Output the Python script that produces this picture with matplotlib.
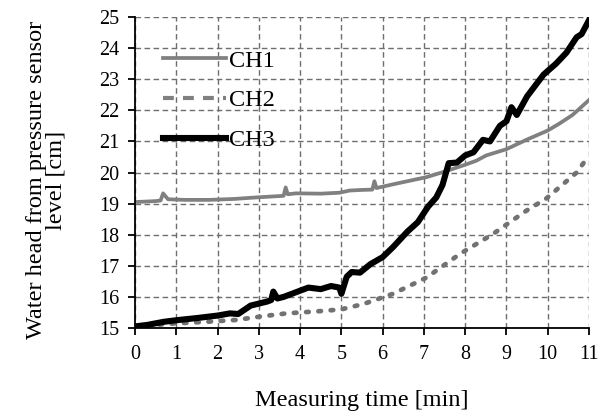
import matplotlib
matplotlib.use("Agg")
import matplotlib.pyplot as plt
from matplotlib.lines import Line2D

plt.rcParams['font.family'] = ['Liberation Serif', 'DejaVu Serif']

# ---- data ----
ch1_t = [0, 0.5, 0.62, 0.68, 0.8, 1.2, 1.8, 2.4, 2.95, 3.6, 3.65, 3.7, 3.9, 4.5, 4.95,
         5.2, 5.5, 5.75, 5.8, 5.85, 6.25, 6.6, 7.06, 7.55, 8.0, 8.27, 8.51, 9.0, 9.48,
         10.0, 10.29, 10.6, 11.0]
ch1_h = [19.05, 19.08, 19.1, 19.33, 19.14, 19.12, 19.12, 19.15, 19.2, 19.25, 19.52, 19.3,
         19.33, 19.32, 19.35, 19.42, 19.44, 19.45, 19.72, 19.5, 19.62, 19.72, 19.85, 20.05,
         20.25, 20.38, 20.55, 20.75, 21.05, 21.35, 21.58, 21.85, 22.33]

ch2_t = [0, 0.5, 1.0, 1.73, 2.46, 3.1, 3.67, 4.56, 5.0, 5.53, 6.25, 7.06, 7.87, 8.68,
         9.48, 9.97, 10.7, 11.0]
ch2_h = [15.02, 15.1, 15.15, 15.2, 15.26, 15.38, 15.47, 15.55, 15.6, 15.77, 16.1, 16.62,
         17.38, 18.03, 18.77, 19.17, 20.0, 20.55]

ch3_t = [0, 0.3, 0.7, 1.0, 1.5, 2.0, 2.3, 2.5, 2.8, 3.2, 3.3, 3.35, 3.45, 3.6, 3.9, 4.2,
         4.5, 4.75, 4.95, 5.0, 5.13, 5.25, 5.45, 5.7, 6.0, 6.25, 6.6, 6.85, 7.1, 7.3, 7.45,
         7.6, 7.8, 8.0, 8.2, 8.43, 8.6, 8.84, 9.0, 9.12, 9.25, 9.5, 9.9, 10.2, 10.45, 10.7,
         10.82, 11.0]
ch3_h = [15.05, 15.1, 15.2, 15.25, 15.32, 15.4, 15.47, 15.45, 15.72, 15.85, 15.9, 16.17,
         15.95, 16.0, 16.15, 16.3, 16.25, 16.35, 16.3, 16.1, 16.65, 16.8, 16.78, 17.05,
         17.28, 17.6, 18.1, 18.4, 18.9, 19.2, 19.6, 20.3, 20.32, 20.55, 20.65, 21.05, 21.0,
         21.5, 21.65, 22.1, 21.85, 22.45, 23.15, 23.5, 23.85, 24.35, 24.45, 24.9]

labels = ["CH1", "CH2", "CH3"]
x_ticks = list(range(0, 12))
y_ticks = list(range(15, 26))

gray = "#808080"
FS_TICK = 14.5
FS_LAB = 17.5

fig = plt.figure(figsize=(6.06, 4.18), dpi=100)
ax = fig.add_axes([0.2228, 0.2153, 0.7492, 0.744])

ax.plot(ch1_t, ch1_h, color=gray, lw=2.7, solid_joinstyle='round', zorder=3)
ax.plot(ch2_t, ch2_h, color="#727272", lw=3.4, linestyle=(0, (0.55, 2.05)),
        dash_capstyle='round', zorder=3)
ax.plot(ch3_t, ch3_h, color="black", lw=4.4, solid_joinstyle='round', zorder=4)

ax.set_xlim(0, 11)
ax.set_ylim(15, 25)
ax.set_xticks(x_ticks)
ax.set_yticks(y_ticks)
ax.grid(True, linestyle=(0, (4, 2.5)), color="#6e6e6e", lw=1.0)
ax.set_axisbelow(True)
for s in ['top', 'right']:
    ax.spines[s].set_visible(False)
for s in ['left', 'bottom']:
    ax.spines[s].set_linewidth(1.3)
    ax.spines[s].set_zorder(5)
ax.tick_params(axis='both', direction='out', length=5, width=1.3, labelsize=FS_TICK)
ax.tick_params(axis='x', pad=7)
ax.tick_params(axis='y', pad=6)

ax.set_xlabel("Measuring time [min]", fontsize=FS_LAB)
ax.xaxis.set_label_coords(0.5, -0.2)
ax.set_ylabel("Water head from pressure sensor\nlevel [cm]", fontsize=FS_LAB, linespacing=0.92)
ax.yaxis.set_label_coords(-0.15, 0.475)

handles = [
    Line2D([], [], color=gray, lw=2.7),
    Line2D([], [], color=gray, lw=3.0, linestyle=(0, (2.6, 2.2))),
    Line2D([], [], color="black", lw=4.4),
]
ax.legend(handles, labels, loc='upper left', bbox_to_anchor=(0.062, 0.895),
          frameon=False, fontsize=FS_LAB, handlelength=2.6, handletextpad=0.1,
          labelspacing=0.73, borderpad=0, borderaxespad=0)

fig.savefig("out.png", dpi=100)
